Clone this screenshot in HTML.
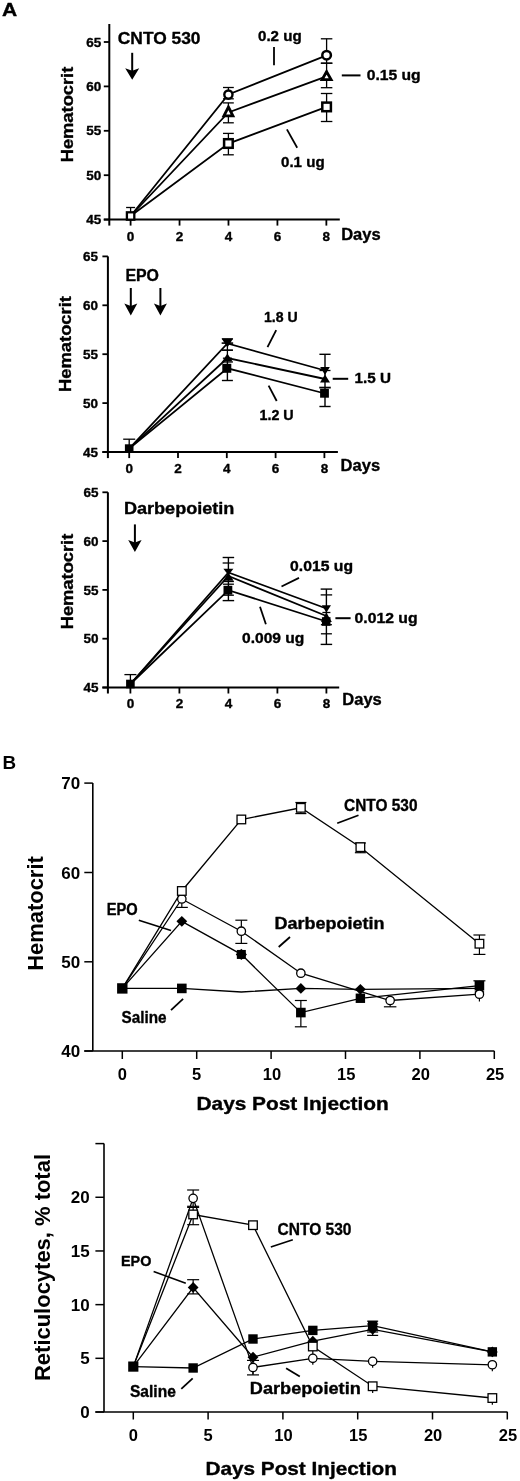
<!DOCTYPE html>
<html lang="en"><head><meta charset="utf-8"><title>Figure</title>
<style>html,body{margin:0;padding:0;background:#fff}svg{display:block}</style></head><body>
<svg width="520" height="1481" viewBox="0 0 520 1481" font-family="Liberation Sans, Arial, sans-serif" font-weight="bold" fill="#000" stroke="#000">
<rect x="0" y="0" width="520" height="1481" fill="#fff" stroke="none"/>
<g stroke="none">
<text x="2" y="16.3" font-size="17.5" text-anchor="start" textLength="15.2" lengthAdjust="spacingAndGlyphs" stroke="#000" stroke-width="0.35" stroke-linejoin="round">A</text>
<text x="2.6" y="768.9" font-size="17.5" text-anchor="start" textLength="13.6" lengthAdjust="spacingAndGlyphs" >B</text>
</g>
<line x1="109.3" y1="24" x2="109.3" y2="225.6" stroke-width="2" />
<line x1="103.8" y1="219.6" x2="339.8" y2="219.6" stroke-width="2" />
<line x1="103.8" y1="42" x2="109.3" y2="42" stroke-width="1.8" />
<line x1="103.8" y1="86.4" x2="109.3" y2="86.4" stroke-width="1.8" />
<line x1="103.8" y1="130.8" x2="109.3" y2="130.8" stroke-width="1.8" />
<line x1="103.8" y1="175.2" x2="109.3" y2="175.2" stroke-width="1.8" />
<line x1="103.8" y1="219.6" x2="109.3" y2="219.6" stroke-width="1.8" />
<line x1="130.6" y1="219.6" x2="130.6" y2="225.6" stroke-width="1.8" />
<line x1="179.54" y1="219.6" x2="179.54" y2="225.6" stroke-width="1.8" />
<line x1="228.48" y1="219.6" x2="228.48" y2="225.6" stroke-width="1.8" />
<line x1="277.41999999999996" y1="219.6" x2="277.41999999999996" y2="225.6" stroke-width="1.8" />
<line x1="326.36" y1="219.6" x2="326.36" y2="225.6" stroke-width="1.8" />
<g stroke="none">
<text x="101.3" y="46.6" font-size="13" text-anchor="end" textLength="15" lengthAdjust="spacingAndGlyphs" stroke="#000" stroke-width="0.35" stroke-linejoin="round">65</text>
<text x="101.3" y="91.0" font-size="13" text-anchor="end" textLength="15" lengthAdjust="spacingAndGlyphs" stroke="#000" stroke-width="0.35" stroke-linejoin="round">60</text>
<text x="101.3" y="135.4" font-size="13" text-anchor="end" textLength="15" lengthAdjust="spacingAndGlyphs" stroke="#000" stroke-width="0.35" stroke-linejoin="round">55</text>
<text x="101.3" y="179.79999999999998" font-size="13" text-anchor="end" textLength="15" lengthAdjust="spacingAndGlyphs" stroke="#000" stroke-width="0.35" stroke-linejoin="round">50</text>
<text x="101.3" y="224.2" font-size="13" text-anchor="end" textLength="15" lengthAdjust="spacingAndGlyphs" stroke="#000" stroke-width="0.35" stroke-linejoin="round">45</text>
<text x="130.6" y="241" font-size="13.5" text-anchor="middle" stroke="#000" stroke-width="0.35" stroke-linejoin="round">0</text>
<text x="179.54" y="241" font-size="13.5" text-anchor="middle" stroke="#000" stroke-width="0.35" stroke-linejoin="round">2</text>
<text x="228.48" y="241" font-size="13.5" text-anchor="middle" stroke="#000" stroke-width="0.35" stroke-linejoin="round">4</text>
<text x="277.41999999999996" y="241" font-size="13.5" text-anchor="middle" stroke="#000" stroke-width="0.35" stroke-linejoin="round">6</text>
<text x="326.36" y="241" font-size="13.5" text-anchor="middle" stroke="#000" stroke-width="0.35" stroke-linejoin="round">8</text>
<text x="341.2" y="239.8" font-size="16.3" text-anchor="start" textLength="39.5" lengthAdjust="spacingAndGlyphs" stroke="#000" stroke-width="0.35" stroke-linejoin="round">Days</text>
<text transform="translate(72.6,162.3) rotate(-90)" font-size="17.3" textLength="95.6" lengthAdjust="spacingAndGlyphs" stroke="#000" stroke-width="0.35" stroke-linejoin="round">Hematocrit</text>
</g>
<g stroke="none">
<text x="117.8" y="43.8" font-size="17.2" text-anchor="start" textLength="82.7" lengthAdjust="spacingAndGlyphs" stroke="#000" stroke-width="0.35" stroke-linejoin="round">CNTO 530</text>
<text x="258" y="41" font-size="14.4" text-anchor="start" textLength="43.7" lengthAdjust="spacingAndGlyphs" stroke="#000" stroke-width="0.35" stroke-linejoin="round">0.2 ug</text>
<text x="366.7" y="79.8" font-size="14.4" text-anchor="start" textLength="54" lengthAdjust="spacingAndGlyphs" stroke="#000" stroke-width="0.35" stroke-linejoin="round">0.15 ug</text>
<text x="281" y="166.5" font-size="14.4" text-anchor="start" textLength="43.6" lengthAdjust="spacingAndGlyphs" stroke="#000" stroke-width="0.35" stroke-linejoin="round">0.1 ug</text>
</g>
<line x1="132.2" y1="52.8" x2="132.2" y2="71.3" stroke-width="2" />
<polygon points="125.19999999999999,68.3 132.2,70.8 139.2,68.3 132.2,79.8" fill="#000" stroke="none"/>
<line x1="274" y1="47" x2="274" y2="65.2" stroke-width="1.8" />
<line x1="341.8" y1="75.4" x2="360.5" y2="75.4" stroke-width="2" />
<line x1="286.9" y1="129.4" x2="297.2" y2="147.7" stroke-width="1.8" />
<polyline fill="none" stroke-width="1.8" points="130.6,216 228.4,94.5 326.6,55.3"/>
<polyline fill="none" stroke-width="1.8" points="130.6,216 228.4,112.5 326.6,76.3"/>
<polyline fill="none" stroke-width="1.8" points="130.6,216 228.4,143.6 326.6,106.9"/>
<line x1="130.6" y1="207.5" x2="130.6" y2="216" stroke-width="1.3" />
<line x1="126.1" y1="207.5" x2="135.1" y2="207.5" stroke-width="1.3" />
<line x1="228.4" y1="87.5" x2="228.4" y2="98.8" stroke-width="1.3" />
<line x1="223.0" y1="87.5" x2="233.8" y2="87.5" stroke-width="1.3" />
<line x1="223.0" y1="98.8" x2="233.8" y2="98.8" stroke-width="1.3" />
<line x1="228.4" y1="102.9" x2="228.4" y2="122.8" stroke-width="1.3" />
<line x1="223.0" y1="102.9" x2="233.8" y2="102.9" stroke-width="1.3" />
<line x1="223.0" y1="122.8" x2="233.8" y2="122.8" stroke-width="1.3" />
<line x1="228.4" y1="133.4" x2="228.4" y2="154.8" stroke-width="1.3" />
<line x1="223.0" y1="133.4" x2="233.8" y2="133.4" stroke-width="1.3" />
<line x1="223.0" y1="154.8" x2="233.8" y2="154.8" stroke-width="1.3" />
<line x1="326.6" y1="38.8" x2="326.6" y2="63.2" stroke-width="1.3" />
<line x1="320.85" y1="38.8" x2="332.35" y2="38.8" stroke-width="1.3" />
<line x1="320.85" y1="63.2" x2="332.35" y2="63.2" stroke-width="1.3" />
<line x1="326.6" y1="63.2" x2="326.6" y2="87.7" stroke-width="1.3" />
<line x1="320.85" y1="63.2" x2="332.35" y2="63.2" stroke-width="1.3" />
<line x1="320.85" y1="87.7" x2="332.35" y2="87.7" stroke-width="1.3" />
<line x1="326.6" y1="93.5" x2="326.6" y2="121.5" stroke-width="1.3" />
<line x1="320.85" y1="93.5" x2="332.35" y2="93.5" stroke-width="1.3" />
<line x1="320.85" y1="121.5" x2="332.35" y2="121.5" stroke-width="1.3" />
<rect x="126.89999999999999" y="212.3" width="7.4" height="7.4" fill="#fff" stroke-width="2.3"/>
<circle cx="228.4" cy="94.6" r="4.1" fill="#fff" stroke-width="2.4"/>
<polygon points="228.4,107 232.9,115.8 223.9,115.8" fill="#fff" stroke-width="2.8" stroke-linejoin="miter"/>
<rect x="224.1" y="139.2" width="8.6" height="8.6" fill="#fff" stroke-width="2.5"/>
<circle cx="326.6" cy="55.2" r="4.3" fill="#fff" stroke-width="2.5"/>
<polygon points="326.6,71.7 331.1,79.6 322.1,79.6" fill="#fff" stroke-width="2.8" stroke-linejoin="miter"/>
<rect x="322.3" y="102.60000000000001" width="8.6" height="8.6" fill="#fff" stroke-width="2.5"/>
<line x1="107.9" y1="256.4" x2="107.9" y2="458.1" stroke-width="2" />
<line x1="102.4" y1="452.1" x2="337.9" y2="452.1" stroke-width="2" />
<line x1="102.4" y1="256.4" x2="107.9" y2="256.4" stroke-width="1.8" />
<line x1="102.4" y1="305.3" x2="107.9" y2="305.3" stroke-width="1.8" />
<line x1="102.4" y1="354.2" x2="107.9" y2="354.2" stroke-width="1.8" />
<line x1="102.4" y1="403.1" x2="107.9" y2="403.1" stroke-width="1.8" />
<line x1="102.4" y1="452.1" x2="107.9" y2="452.1" stroke-width="1.8" />
<line x1="129.2" y1="452.1" x2="129.2" y2="458.1" stroke-width="1.8" />
<line x1="178.0" y1="452.1" x2="178.0" y2="458.1" stroke-width="1.8" />
<line x1="226.79999999999998" y1="452.1" x2="226.79999999999998" y2="458.1" stroke-width="1.8" />
<line x1="275.59999999999997" y1="452.1" x2="275.59999999999997" y2="458.1" stroke-width="1.8" />
<line x1="324.4" y1="452.1" x2="324.4" y2="458.1" stroke-width="1.8" />
<g stroke="none">
<text x="97.9" y="261.0" font-size="13" text-anchor="end" textLength="15" lengthAdjust="spacingAndGlyphs" stroke="#000" stroke-width="0.35" stroke-linejoin="round">65</text>
<text x="97.9" y="309.90000000000003" font-size="13" text-anchor="end" textLength="15" lengthAdjust="spacingAndGlyphs" stroke="#000" stroke-width="0.35" stroke-linejoin="round">60</text>
<text x="97.9" y="358.8" font-size="13" text-anchor="end" textLength="15" lengthAdjust="spacingAndGlyphs" stroke="#000" stroke-width="0.35" stroke-linejoin="round">55</text>
<text x="97.9" y="407.70000000000005" font-size="13" text-anchor="end" textLength="15" lengthAdjust="spacingAndGlyphs" stroke="#000" stroke-width="0.35" stroke-linejoin="round">50</text>
<text x="97.9" y="456.70000000000005" font-size="13" text-anchor="end" textLength="15" lengthAdjust="spacingAndGlyphs" stroke="#000" stroke-width="0.35" stroke-linejoin="round">45</text>
<text x="129.2" y="473" font-size="13.5" text-anchor="middle" stroke="#000" stroke-width="0.35" stroke-linejoin="round">0</text>
<text x="178.0" y="473" font-size="13.5" text-anchor="middle" stroke="#000" stroke-width="0.35" stroke-linejoin="round">2</text>
<text x="226.79999999999998" y="473" font-size="13.5" text-anchor="middle" stroke="#000" stroke-width="0.35" stroke-linejoin="round">4</text>
<text x="275.59999999999997" y="473" font-size="13.5" text-anchor="middle" stroke="#000" stroke-width="0.35" stroke-linejoin="round">6</text>
<text x="324.4" y="473" font-size="13.5" text-anchor="middle" stroke="#000" stroke-width="0.35" stroke-linejoin="round">8</text>
<text x="340.6" y="471.4" font-size="16.3" text-anchor="start" textLength="39.5" lengthAdjust="spacingAndGlyphs" stroke="#000" stroke-width="0.35" stroke-linejoin="round">Days</text>
<text transform="translate(71.4,391.9) rotate(-90)" font-size="17.3" textLength="95.8" lengthAdjust="spacingAndGlyphs" stroke="#000" stroke-width="0.35" stroke-linejoin="round">Hematocrit</text>
</g>
<g stroke="none">
<text x="125.4" y="280.5" font-size="16" text-anchor="start" textLength="33.6" lengthAdjust="spacingAndGlyphs" stroke="#000" stroke-width="0.35" stroke-linejoin="round">EPO</text>
<text x="264" y="322.3" font-size="14.4" text-anchor="start" textLength="33.7" lengthAdjust="spacingAndGlyphs" stroke="#000" stroke-width="0.35" stroke-linejoin="round">1.8 U</text>
<text x="354.6" y="382.5" font-size="14.4" text-anchor="start" textLength="36.4" lengthAdjust="spacingAndGlyphs" stroke="#000" stroke-width="0.35" stroke-linejoin="round">1.5 U</text>
<text x="259.5" y="419.8" font-size="14.4" text-anchor="start" textLength="34.2" lengthAdjust="spacingAndGlyphs" stroke="#000" stroke-width="0.35" stroke-linejoin="round">1.2 U</text>
</g>
<line x1="130.8" y1="288" x2="130.8" y2="306.5" stroke-width="2" />
<polygon points="124.30000000000001,303.5 130.8,306.0 137.3,303.5 130.8,315.5" fill="#000" stroke="none"/>
<line x1="160.4" y1="288" x2="160.4" y2="306.5" stroke-width="2" />
<polygon points="153.9,303.5 160.4,306.0 166.9,303.5 160.4,315.5" fill="#000" stroke="none"/>
<line x1="276.2" y1="330.2" x2="267.5" y2="347.1" stroke-width="1.8" />
<line x1="332.7" y1="378.8" x2="348.2" y2="378.8" stroke-width="2" />
<line x1="268.6" y1="385.6" x2="276.7" y2="401" stroke-width="1.8" />
<polyline fill="none" stroke-width="1.8" points="129.2,448.6 227.4,343.5 325,370.5"/>
<polyline fill="none" stroke-width="1.8" points="129.2,448.6 227.4,358 325,379"/>
<polyline fill="none" stroke-width="1.8" points="129.2,448.6 227.4,368.3 325,393.5"/>
<line x1="129.2" y1="439.2" x2="129.2" y2="448" stroke-width="1.3" />
<line x1="123.19999999999999" y1="439.2" x2="135.2" y2="439.2" stroke-width="1.3" />
<line x1="227.4" y1="338.9" x2="227.4" y2="350.2" stroke-width="1.3" />
<line x1="221.9" y1="338.9" x2="232.9" y2="338.9" stroke-width="1.3" />
<line x1="221.9" y1="350.2" x2="232.9" y2="350.2" stroke-width="1.3" />
<line x1="221.65" y1="343.1" x2="233.15" y2="343.1" stroke-width="1.6" />
<line x1="227.4" y1="350.2" x2="227.4" y2="362" stroke-width="1.3" />
<line x1="221.9" y1="350.2" x2="232.9" y2="350.2" stroke-width="1.3" />
<line x1="221.9" y1="362" x2="232.9" y2="362" stroke-width="1.3" />
<line x1="222.9" y1="358.2" x2="231.9" y2="358.2" stroke-width="1.3" />
<line x1="227.4" y1="362" x2="227.4" y2="380.5" stroke-width="1.4" />
<line x1="221.9" y1="380.5" x2="232.9" y2="380.5" stroke-width="1.4" />
<line x1="325" y1="354.3" x2="325" y2="406.5" stroke-width="1.4" />
<line x1="319.4" y1="354.3" x2="330.6" y2="354.3" stroke-width="1.4" />
<line x1="319.4" y1="406.5" x2="330.6" y2="406.5" stroke-width="1.4" />
<line x1="319.5" y1="370.5" x2="330.5" y2="370.5" stroke-width="1.3" />
<line x1="319.25" y1="387.6" x2="330.75" y2="387.6" stroke-width="1.8" />
<rect x="124.89999999999999" y="444.3" width="8.6" height="8.6" fill="#000" stroke="none"/>
<polygon points="227.4,347.4 233.20000000000002,338.6 221.6,338.6" fill="#000" stroke="none"/>
<polygon points="227.4,353.6 232.6,361.6 222.20000000000002,361.6" fill="#000" stroke="none"/>
<rect x="222.3" y="363.8" width="9" height="9" fill="#000" stroke="none"/>
<polygon points="325,375 329.8,367 320.2,367" fill="#000" stroke="none"/>
<polygon points="325,374.6 330,382.6 320,382.6" fill="#000" stroke="none"/>
<rect x="320.1" y="388.90000000000003" width="8.8" height="8.8" fill="#000" stroke="none"/>
<line x1="107.9" y1="492.3" x2="107.9" y2="693.5" stroke-width="2" />
<line x1="102.4" y1="687.5" x2="339.2" y2="687.5" stroke-width="2" />
<line x1="102.4" y1="492.3" x2="107.9" y2="492.3" stroke-width="1.8" />
<line x1="102.4" y1="541.1" x2="107.9" y2="541.1" stroke-width="1.8" />
<line x1="102.4" y1="589.9" x2="107.9" y2="589.9" stroke-width="1.8" />
<line x1="102.4" y1="638.7" x2="107.9" y2="638.7" stroke-width="1.8" />
<line x1="102.4" y1="687.5" x2="107.9" y2="687.5" stroke-width="1.8" />
<line x1="130.4" y1="687.5" x2="130.4" y2="693.5" stroke-width="1.8" />
<line x1="179.4" y1="687.5" x2="179.4" y2="693.5" stroke-width="1.8" />
<line x1="228.4" y1="687.5" x2="228.4" y2="693.5" stroke-width="1.8" />
<line x1="277.4" y1="687.5" x2="277.4" y2="693.5" stroke-width="1.8" />
<line x1="326.4" y1="687.5" x2="326.4" y2="693.5" stroke-width="1.8" />
<g stroke="none">
<text x="98.6" y="496.90000000000003" font-size="13" text-anchor="end" textLength="15" lengthAdjust="spacingAndGlyphs" stroke="#000" stroke-width="0.35" stroke-linejoin="round">65</text>
<text x="98.6" y="545.7" font-size="13" text-anchor="end" textLength="15" lengthAdjust="spacingAndGlyphs" stroke="#000" stroke-width="0.35" stroke-linejoin="round">60</text>
<text x="98.6" y="594.5" font-size="13" text-anchor="end" textLength="15" lengthAdjust="spacingAndGlyphs" stroke="#000" stroke-width="0.35" stroke-linejoin="round">55</text>
<text x="98.6" y="643.3000000000001" font-size="13" text-anchor="end" textLength="15" lengthAdjust="spacingAndGlyphs" stroke="#000" stroke-width="0.35" stroke-linejoin="round">50</text>
<text x="98.6" y="692.1" font-size="13" text-anchor="end" textLength="15" lengthAdjust="spacingAndGlyphs" stroke="#000" stroke-width="0.35" stroke-linejoin="round">45</text>
<text x="130.4" y="708" font-size="13.5" text-anchor="middle" stroke="#000" stroke-width="0.35" stroke-linejoin="round">0</text>
<text x="179.4" y="708" font-size="13.5" text-anchor="middle" stroke="#000" stroke-width="0.35" stroke-linejoin="round">2</text>
<text x="228.4" y="708" font-size="13.5" text-anchor="middle" stroke="#000" stroke-width="0.35" stroke-linejoin="round">4</text>
<text x="277.4" y="708" font-size="13.5" text-anchor="middle" stroke="#000" stroke-width="0.35" stroke-linejoin="round">6</text>
<text x="326.4" y="708" font-size="13.5" text-anchor="middle" stroke="#000" stroke-width="0.35" stroke-linejoin="round">8</text>
<text x="342.3" y="704.6" font-size="16.3" text-anchor="start" textLength="39.5" lengthAdjust="spacingAndGlyphs" stroke="#000" stroke-width="0.35" stroke-linejoin="round">Days</text>
<text transform="translate(72.8,629.3) rotate(-90)" font-size="17.3" textLength="95.6" lengthAdjust="spacingAndGlyphs" stroke="#000" stroke-width="0.35" stroke-linejoin="round">Hematocrit</text>
</g>
<g stroke="none">
<text x="123.9" y="513.5" font-size="16" text-anchor="start" textLength="110.5" lengthAdjust="spacingAndGlyphs" stroke="#000" stroke-width="0.35" stroke-linejoin="round">Darbepoietin</text>
<text x="290" y="570.6" font-size="14.4" text-anchor="start" textLength="63" lengthAdjust="spacingAndGlyphs" stroke="#000" stroke-width="0.35" stroke-linejoin="round">0.015 ug</text>
<text x="354.6" y="622.5" font-size="14.4" text-anchor="start" textLength="63" lengthAdjust="spacingAndGlyphs" stroke="#000" stroke-width="0.35" stroke-linejoin="round">0.012 ug</text>
<text x="242" y="642.5" font-size="14.4" text-anchor="start" textLength="62.4" lengthAdjust="spacingAndGlyphs" stroke="#000" stroke-width="0.35" stroke-linejoin="round">0.009 ug</text>
</g>
<line x1="134.9" y1="524.4" x2="134.9" y2="542.9" stroke-width="2" />
<polygon points="128.20000000000002,539.9 134.9,542.4 141.6,539.9 134.9,551.9" fill="#000" stroke="none"/>
<line x1="299" y1="577.9" x2="281.5" y2="586.5" stroke-width="1.8" />
<line x1="335.4" y1="618.2" x2="350.6" y2="618.2" stroke-width="2" />
<line x1="260" y1="606.7" x2="265.9" y2="624.2" stroke-width="1.8" />
<polyline fill="none" stroke-width="1.8" points="130.4,684 228.4,572.5 326.4,608.5"/>
<polyline fill="none" stroke-width="1.8" points="130.4,684 228.4,576 326.4,616"/>
<polyline fill="none" stroke-width="1.8" points="130.4,684 228.4,590.2 326.4,621.5"/>
<line x1="130.4" y1="674.6" x2="130.4" y2="684" stroke-width="1.3" />
<line x1="124.4" y1="674.6" x2="136.4" y2="674.6" stroke-width="1.3" />
<line x1="228.4" y1="557.5" x2="228.4" y2="600.6" stroke-width="1.4" />
<line x1="222.65" y1="557.5" x2="234.15" y2="557.5" stroke-width="1.4" />
<line x1="222.65" y1="600.6" x2="234.15" y2="600.6" stroke-width="1.4" />
<line x1="222.65" y1="563" x2="234.15" y2="563" stroke-width="1.3" />
<line x1="222.9" y1="581.5" x2="233.9" y2="581.5" stroke-width="1.3" />
<line x1="222.9" y1="584.2" x2="233.9" y2="584.2" stroke-width="1.3" />
<line x1="222.9" y1="595.2" x2="233.9" y2="595.2" stroke-width="1.3" />
<line x1="326.4" y1="589.1" x2="326.4" y2="644.4" stroke-width="1.4" />
<line x1="320.65" y1="589.1" x2="332.15" y2="589.1" stroke-width="1.4" />
<line x1="320.65" y1="644.4" x2="332.15" y2="644.4" stroke-width="1.4" />
<line x1="320.65" y1="594.9" x2="332.15" y2="594.9" stroke-width="1.3" />
<line x1="322.4" y1="612.5" x2="330.4" y2="612.5" stroke-width="1.3" />
<line x1="320.9" y1="624.7" x2="331.9" y2="624.7" stroke-width="1.3" />
<line x1="320.9" y1="633.8" x2="331.9" y2="633.8" stroke-width="1.3" />
<rect x="126.10000000000001" y="679.7" width="8.6" height="8.6" fill="#000" stroke="none"/>
<polygon points="228.4,575.2 233.4,568.8 223.4,568.8" fill="#000" stroke="none"/>
<polygon points="228.4,572.6 233.6,580.8 223.20000000000002,580.8" fill="#000" stroke="none"/>
<rect x="223.5" y="585.8000000000001" width="8.8" height="8.8" fill="#000" stroke="none"/>
<polygon points="326.4,612.4 331.0,605.3 321.79999999999995,605.3" fill="#000" stroke="none"/>
<polygon points="326.4,612.6 331.79999999999995,622 321.0,622" fill="#000" stroke="none"/>
<rect x="321.9" y="617.2" width="8.6" height="8.6" fill="#000" stroke="none"/>
<line x1="92.8" y1="783.1" x2="92.8" y2="1051" stroke-width="1.6" />
<line x1="84.3" y1="1051" x2="494.4" y2="1051" stroke-width="1.6" />
<line x1="84.3" y1="783.1" x2="92.8" y2="783.1" stroke-width="1.5" />
<line x1="84.3" y1="872.5" x2="92.8" y2="872.5" stroke-width="1.5" />
<line x1="84.3" y1="961.8" x2="92.8" y2="961.8" stroke-width="1.5" />
<line x1="84.3" y1="1051" x2="92.8" y2="1051" stroke-width="1.5" />
<line x1="122.3" y1="1051" x2="122.3" y2="1059" stroke-width="1.5" />
<line x1="196.7" y1="1051" x2="196.7" y2="1059" stroke-width="1.5" />
<line x1="271.1" y1="1051" x2="271.1" y2="1059" stroke-width="1.5" />
<line x1="345.5" y1="1051" x2="345.5" y2="1059" stroke-width="1.5" />
<line x1="419.90000000000003" y1="1051" x2="419.90000000000003" y2="1059" stroke-width="1.5" />
<line x1="494.3" y1="1051" x2="494.3" y2="1059" stroke-width="1.5" />
<g stroke="none">
<text x="80.2" y="789.2" font-size="17" text-anchor="end" >70</text>
<text x="80.2" y="878.6" font-size="17" text-anchor="end" >60</text>
<text x="80.2" y="967.9" font-size="17" text-anchor="end" >50</text>
<text x="80.2" y="1057.1" font-size="17" text-anchor="end" >40</text>
<text x="122.3" y="1080" font-size="16.5" text-anchor="middle" >0</text>
<text x="196.7" y="1080" font-size="16.5" text-anchor="middle" >5</text>
<text x="271.90000000000003" y="1080" font-size="16.5" text-anchor="middle" >10</text>
<text x="346.3" y="1080" font-size="16.5" text-anchor="middle" >15</text>
<text x="420.70000000000005" y="1080" font-size="16.5" text-anchor="middle" >20</text>
<text x="495.1" y="1080" font-size="16.5" text-anchor="middle" >25</text>
<text transform="translate(42.6,970.8) rotate(-90)" font-size="22" textLength="114.6" lengthAdjust="spacingAndGlyphs">Hematocrit</text>
<text x="196.5" y="1110" font-size="18.4" text-anchor="start" textLength="192.3" lengthAdjust="spacingAndGlyphs" stroke="#000" stroke-width="0.35" stroke-linejoin="round">Days Post Injection</text>
<text x="106.7" y="915" font-size="15.8" text-anchor="start" textLength="31" lengthAdjust="spacingAndGlyphs" stroke="#000" stroke-width="0.35" stroke-linejoin="round">EPO</text>
<text x="121.5" y="1023.2" font-size="15.8" text-anchor="start" textLength="45" lengthAdjust="spacingAndGlyphs" stroke="#000" stroke-width="0.35" stroke-linejoin="round">Saline</text>
<text x="344.1" y="811.2" font-size="15.9" text-anchor="start" textLength="73.4" lengthAdjust="spacingAndGlyphs" stroke="#000" stroke-width="0.35" stroke-linejoin="round">CNTO 530</text>
<text x="274.5" y="929.3" font-size="16" text-anchor="start" textLength="110" lengthAdjust="spacingAndGlyphs" stroke="#000" stroke-width="0.35" stroke-linejoin="round">Darbepoietin</text>
</g>
<line x1="138.8" y1="920.2" x2="171" y2="930.6" stroke-width="1.6" />
<line x1="171" y1="1010.2" x2="183.1" y2="998.8" stroke-width="1.8" />
<line x1="358.5" y1="815.2" x2="337.2" y2="823.2" stroke-width="1.7" />
<line x1="290" y1="937" x2="278.7" y2="947" stroke-width="1.8" />
<polyline fill="none" stroke-width="1.3" points="122.3,988.4 181.8,891.0 241.3,819.5 300.9,807.8 360.4,847.2 479.4,943.7"/>
<polyline fill="none" stroke-width="1.3" points="122.3,988.4 181.8,899.0 241.3,931.2 300.9,973.2 390.1,1000.5 479.4,994.2"/>
<polyline fill="none" stroke-width="1.3" points="122.3,988.4 181.8,921.4 241.3,954.4 300.9,1012.6 360.4,998.3 479.4,985.7"/>
<polyline fill="none" stroke-width="1.3" points="122.3,988.4 181.8,988.4 241.3,992.0 300.9,988.4 360.4,989.3 479.4,988.4"/>
<line x1="181.82" y1="893.02" x2="181.82" y2="907.4" stroke-width="1.2" />
<line x1="175.82" y1="907.4" x2="187.82" y2="907.4" stroke-width="1.2" />
<line x1="241.34" y1="920.2" x2="241.34" y2="943.4" stroke-width="1.2" />
<line x1="235.34" y1="920.2" x2="247.34" y2="920.2" stroke-width="1.2" />
<line x1="235.34" y1="943.4" x2="247.34" y2="943.4" stroke-width="1.2" />
<line x1="300.86" y1="802.5" x2="300.86" y2="813.6" stroke-width="1.2" />
<line x1="295.36" y1="802.5" x2="306.36" y2="802.5" stroke-width="1.2" />
<line x1="295.36" y1="813.6" x2="306.36" y2="813.6" stroke-width="1.2" />
<line x1="360.38" y1="843" x2="360.38" y2="852.7" stroke-width="1.2" />
<line x1="354.88" y1="843" x2="365.88" y2="843" stroke-width="1.2" />
<line x1="354.88" y1="852.7" x2="365.88" y2="852.7" stroke-width="1.2" />
<line x1="479.42" y1="935" x2="479.42" y2="954.4" stroke-width="1.2" />
<line x1="473.42" y1="935" x2="485.42" y2="935" stroke-width="1.2" />
<line x1="473.42" y1="954.4" x2="485.42" y2="954.4" stroke-width="1.2" />
<line x1="300.86" y1="1000.5" x2="300.86" y2="1026.8" stroke-width="1.2" />
<line x1="294.86" y1="1000.5" x2="306.86" y2="1000.5" stroke-width="1.2" />
<line x1="294.86" y1="1026.8" x2="306.86" y2="1026.8" stroke-width="1.2" />
<line x1="390.14000000000004" y1="1000" x2="390.14000000000004" y2="1006.8" stroke-width="1.2" />
<line x1="383.89000000000004" y1="1006.8" x2="396.39000000000004" y2="1006.8" stroke-width="1.2" />
<line x1="479.42" y1="980.8" x2="479.42" y2="986" stroke-width="1.2" />
<line x1="473.42" y1="980.8" x2="485.42" y2="980.8" stroke-width="1.2" />
<line x1="479.42" y1="990" x2="479.42" y2="1001.5" stroke-width="1.2" />
<rect x="117.1" y="983.2199999999999" width="10.4" height="10.4" fill="#000" stroke="none"/>
<rect x="177.01999999999998" y="983.62" width="9.6" height="9.6" fill="#000" stroke="none"/>
<polygon points="300.86,983.02 306.26,988.42 300.86,993.8199999999999 295.46000000000004,988.42" fill="#000" stroke="none"/>
<polygon points="360.38,983.914 365.78,989.314 360.38,994.7139999999999 354.98,989.314" fill="#000" stroke="none"/>
<polygon points="479.42,986.996 484.42,991.996 479.42,996.996 474.42,991.996" fill="#000" stroke="none"/>
<polygon points="181.82,915.97 187.22,921.37 181.82,926.77 176.42,921.37" fill="#000" stroke="none"/>
<rect x="236.84" y="949.9480000000001" width="9" height="9" fill="#000" stroke="none"/>
<polygon points="241.34,948.8480000000001 246.94,954.4480000000001 241.34,960.0480000000001 235.74,954.4480000000001" fill="#000" stroke="none"/>
<rect x="296.06" y="1007.758" width="9.6" height="9.6" fill="#000" stroke="none"/>
<rect x="355.68" y="993.554" width="9.4" height="9.4" fill="#000" stroke="none"/>
<rect x="474.62" y="980.9380000000001" width="9.6" height="9.6" fill="#000" stroke="none"/>
<circle cx="181.82" cy="899.02" r="4.2" fill="#fff" stroke-width="1.3"/>
<circle cx="241.34" cy="931.2040000000001" r="4.2" fill="#fff" stroke-width="1.3"/>
<circle cx="300.86" cy="973.222" r="4.2" fill="#fff" stroke-width="1.3"/>
<circle cx="390.14000000000004" cy="1000.489" r="4.2" fill="#fff" stroke-width="1.3"/>
<circle cx="479.42" cy="994.231" r="4.2" fill="#fff" stroke-width="1.3"/>
<rect x="177.51999999999998" y="886.6740000000001" width="8.6" height="8.6" fill="#fff" stroke-width="1.3"/>
<rect x="237.04" y="815.154" width="8.6" height="8.6" fill="#fff" stroke-width="1.3"/>
<rect x="296.56" y="803.532" width="8.6" height="8.6" fill="#fff" stroke-width="1.3"/>
<rect x="356.08" y="842.868" width="8.6" height="8.6" fill="#fff" stroke-width="1.3"/>
<rect x="475.12" y="939.4200000000001" width="8.6" height="8.6" fill="#fff" stroke-width="1.3"/>
<line x1="104" y1="1143.6" x2="104" y2="1412" stroke-width="1.6" />
<line x1="95.4" y1="1412" x2="507.5" y2="1412" stroke-width="1.6" />
<line x1="95.4" y1="1412.0" x2="104" y2="1412.0" stroke-width="1.5" />
<line x1="95.4" y1="1358.32" x2="104" y2="1358.32" stroke-width="1.5" />
<line x1="95.4" y1="1304.6399999999999" x2="104" y2="1304.6399999999999" stroke-width="1.5" />
<line x1="95.4" y1="1250.96" x2="104" y2="1250.96" stroke-width="1.5" />
<line x1="95.4" y1="1197.28" x2="104" y2="1197.28" stroke-width="1.5" />
<line x1="95.4" y1="1143.6" x2="104" y2="1143.6" stroke-width="1.5" />
<line x1="133.3" y1="1412" x2="133.3" y2="1419.5" stroke-width="1.5" />
<line x1="208.10000000000002" y1="1412" x2="208.10000000000002" y2="1419.5" stroke-width="1.5" />
<line x1="282.90000000000003" y1="1412" x2="282.90000000000003" y2="1419.5" stroke-width="1.5" />
<line x1="357.70000000000005" y1="1412" x2="357.70000000000005" y2="1419.5" stroke-width="1.5" />
<line x1="432.50000000000006" y1="1412" x2="432.50000000000006" y2="1419.5" stroke-width="1.5" />
<line x1="507.3" y1="1412" x2="507.3" y2="1419.5" stroke-width="1.5" />
<g stroke="none">
<text x="89.6" y="1418.1" font-size="17" text-anchor="end" >0</text>
<text x="89.6" y="1364.4199999999998" font-size="17" text-anchor="end" >5</text>
<text x="89.6" y="1310.7399999999998" font-size="17" text-anchor="end" >10</text>
<text x="89.6" y="1257.06" font-size="17" text-anchor="end" >15</text>
<text x="89.6" y="1203.3799999999999" font-size="17" text-anchor="end" >20</text>
<text x="133.3" y="1440.6" font-size="16.5" text-anchor="middle" >0</text>
<text x="208.10000000000002" y="1440.6" font-size="16.5" text-anchor="middle" >5</text>
<text x="283.50000000000006" y="1440.6" font-size="16.5" text-anchor="middle" >10</text>
<text x="358.30000000000007" y="1440.6" font-size="16.5" text-anchor="middle" >15</text>
<text x="433.1000000000001" y="1440.6" font-size="16.5" text-anchor="middle" >20</text>
<text x="507.90000000000003" y="1440.6" font-size="16.5" text-anchor="middle" >25</text>
<text transform="translate(49.5,1381) rotate(-90)" font-size="22" textLength="227" lengthAdjust="spacingAndGlyphs">Reticulocytes, % total</text>
<text x="205.4" y="1474.8" font-size="18.4" text-anchor="start" textLength="191.5" lengthAdjust="spacingAndGlyphs" stroke="#000" stroke-width="0.35" stroke-linejoin="round">Days Post Injection</text>
<text x="121" y="1266" font-size="15" text-anchor="start" textLength="30.4" lengthAdjust="spacingAndGlyphs" stroke="#000" stroke-width="0.35" stroke-linejoin="round">EPO</text>
<text x="130" y="1397" font-size="15.8" text-anchor="start" textLength="45.8" lengthAdjust="spacingAndGlyphs" stroke="#000" stroke-width="0.35" stroke-linejoin="round">Saline</text>
<text x="277.5" y="1235" font-size="15.9" text-anchor="start" textLength="74" lengthAdjust="spacingAndGlyphs" stroke="#000" stroke-width="0.35" stroke-linejoin="round">CNTO 530</text>
<text x="249.8" y="1394.4" font-size="16" text-anchor="start" textLength="111" lengthAdjust="spacingAndGlyphs" stroke="#000" stroke-width="0.35" stroke-linejoin="round">Darbepoietin</text>
</g>
<line x1="153.6" y1="1271.4" x2="185.8" y2="1283.2" stroke-width="1.6" />
<line x1="181.3" y1="1388.8" x2="192.7" y2="1378.4" stroke-width="1.8" />
<line x1="292.8" y1="1239.8" x2="270.8" y2="1247.1" stroke-width="1.6" />
<line x1="286.1" y1="1368.3" x2="299.8" y2="1376.4" stroke-width="1.8" />
<polyline fill="none" stroke-width="1.3" points="133.3,1366.6 193.1,1214.5 253.0,1225.2 312.8,1346.5 372.7,1386.2 492.3,1398.0"/>
<polyline fill="none" stroke-width="1.3" points="133.3,1366.6 193.1,1198.4 253.0,1367.4 312.8,1358.3 372.7,1361.3 492.3,1364.8"/>
<polyline fill="none" stroke-width="1.3" points="133.3,1366.6 193.1,1287.5 253.0,1357.2 312.8,1341.1 372.7,1329.3 492.3,1351.9"/>
<polyline fill="none" stroke-width="1.3" points="133.3,1366.6 193.1,1368.0 253.0,1339.0 312.8,1330.4 372.7,1325.6 492.3,1351.9"/>
<line x1="193.14000000000001" y1="1190" x2="193.14000000000001" y2="1206.3" stroke-width="1.2" />
<line x1="187.14000000000001" y1="1190" x2="199.14000000000001" y2="1190" stroke-width="1.2" />
<line x1="187.14000000000001" y1="1206.3" x2="199.14000000000001" y2="1206.3" stroke-width="1.2" />
<line x1="193.14000000000001" y1="1207.4" x2="193.14000000000001" y2="1224.7" stroke-width="1.2" />
<line x1="187.14000000000001" y1="1207.4" x2="199.14000000000001" y2="1207.4" stroke-width="1.2" />
<line x1="187.14000000000001" y1="1224.7" x2="199.14000000000001" y2="1224.7" stroke-width="1.2" />
<line x1="193.14000000000001" y1="1279.7" x2="193.14000000000001" y2="1293.9" stroke-width="1.2" />
<line x1="187.14000000000001" y1="1279.7" x2="199.14000000000001" y2="1279.7" stroke-width="1.2" />
<line x1="187.14000000000001" y1="1293.9" x2="199.14000000000001" y2="1293.9" stroke-width="1.2" />
<line x1="252.98000000000002" y1="1360.4" x2="252.98000000000002" y2="1374.9" stroke-width="1.2" />
<line x1="246.98000000000002" y1="1360.4" x2="258.98" y2="1360.4" stroke-width="1.2" />
<line x1="246.98000000000002" y1="1374.9" x2="258.98" y2="1374.9" stroke-width="1.2" />
<line x1="372.66" y1="1321.2" x2="372.66" y2="1335.4" stroke-width="1.2" />
<line x1="367.16" y1="1321.2" x2="378.16" y2="1321.2" stroke-width="1.2" />
<line x1="367.16" y1="1335.4" x2="378.16" y2="1335.4" stroke-width="1.2" />
<line x1="367.16" y1="1324" x2="378.16" y2="1324" stroke-width="1.2" />
<line x1="367.16" y1="1332" x2="378.16" y2="1332" stroke-width="1.2" />
<line x1="312.82000000000005" y1="1346.5104000000001" x2="312.82000000000005" y2="1354.5104000000001" stroke-width="1.2" />
<line x1="252.98000000000002" y1="1367.4456" x2="252.98000000000002" y2="1373.9456" stroke-width="1.2" />
<line x1="312.82000000000005" y1="1358.32" x2="312.82000000000005" y2="1364.82" stroke-width="1.2" />
<line x1="372.66" y1="1361.32608" x2="372.66" y2="1367.82608" stroke-width="1.2" />
<line x1="492.34000000000003" y1="1364.7616" x2="492.34000000000003" y2="1371.2616" stroke-width="1.2" />
<line x1="372.66" y1="1386.2336" x2="372.66" y2="1393.0336" stroke-width="1.2" />
<line x1="492.34000000000003" y1="1398.0432" x2="492.34000000000003" y2="1404.8432" stroke-width="1.2" />
<rect x="128.20000000000002" y="1361.48672" width="10.2" height="10.2" fill="#000" stroke="none"/>
<rect x="188.44000000000003" y="1363.2824" width="9.4" height="9.4" fill="#000" stroke="none"/>
<rect x="248.28000000000003" y="1334.2952" width="9.4" height="9.4" fill="#000" stroke="none"/>
<rect x="308.12000000000006" y="1325.7064" width="9.4" height="9.4" fill="#000" stroke="none"/>
<rect x="367.96000000000004" y="1320.8752" width="9.4" height="9.4" fill="#000" stroke="none"/>
<rect x="487.64000000000004" y="1347.1784" width="9.4" height="9.4" fill="#000" stroke="none"/>
<polygon points="193.14000000000001,1282.0623999999998 198.54000000000002,1287.4624 193.14000000000001,1292.8624 187.74,1287.4624" fill="#000" stroke="none"/>
<polygon points="252.98000000000002,1351.8464 258.38,1357.2464 252.98000000000002,1362.6464 247.58,1357.2464" fill="#000" stroke="none"/>
<polygon points="312.82000000000005,1335.7423999999999 318.22,1341.1424 312.82000000000005,1346.5424 307.4200000000001,1341.1424" fill="#000" stroke="none"/>
<polygon points="372.66,1323.9327999999998 378.06,1329.3328 372.66,1334.7328 367.26000000000005,1329.3328" fill="#000" stroke="none"/>
<polygon points="492.34000000000003,1346.4784 497.74,1351.8784 492.34000000000003,1357.2784000000001 486.94000000000005,1351.8784" fill="#000" stroke="none"/>
<rect x="188.84" y="1210.1576" width="8.6" height="8.6" fill="#fff" stroke-width="1.3"/>
<rect x="248.68" y="1220.8936" width="8.6" height="8.6" fill="#fff" stroke-width="1.3"/>
<rect x="308.52000000000004" y="1342.2104000000002" width="8.6" height="8.6" fill="#fff" stroke-width="1.3"/>
<rect x="368.36" y="1381.9336" width="8.6" height="8.6" fill="#fff" stroke-width="1.3"/>
<rect x="488.04" y="1393.7432000000001" width="8.6" height="8.6" fill="#fff" stroke-width="1.3"/>
<circle cx="193.14000000000001" cy="1198.3536" r="4.2" fill="#fff" stroke-width="1.3"/>
<circle cx="252.98000000000002" cy="1367.4456" r="4.2" fill="#fff" stroke-width="1.3"/>
<circle cx="312.82000000000005" cy="1358.32" r="4.2" fill="#fff" stroke-width="1.3"/>
<circle cx="372.66" cy="1361.32608" r="4.2" fill="#fff" stroke-width="1.3"/>
<circle cx="492.34000000000003" cy="1364.7616" r="4.2" fill="#fff" stroke-width="1.3"/>
</svg></body></html>
